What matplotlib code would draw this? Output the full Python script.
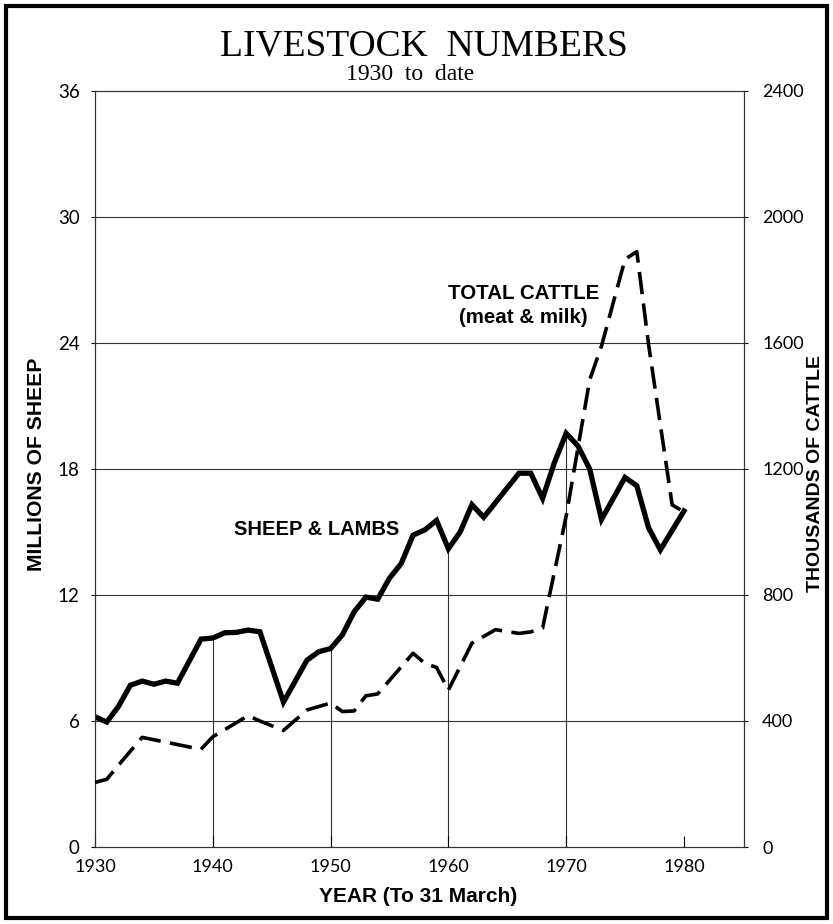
import matplotlib
matplotlib.use("Agg")
import matplotlib.pyplot as plt
from matplotlib.patches import Rectangle

# sheep & lambs, millions (left axis)
years_sheep = [1930, 1931, 1932, 1933, 1934, 1935, 1936, 1937, 1939, 1940,
               1941, 1942, 1943, 1944, 1946, 1948, 1949, 1950, 1951, 1952,
               1953, 1954, 1955, 1956, 1957, 1958, 1959, 1960, 1961, 1962,
               1963, 1964, 1965, 1966, 1967, 1968, 1969, 1970, 1971, 1972,
               1973, 1975, 1976, 1977, 1978, 1980]
sheep = [6.2, 5.95, 6.7, 7.7, 7.9, 7.75, 7.9, 7.8, 9.9, 9.95,
         10.2, 10.22, 10.33, 10.25, 6.9, 8.9, 9.3, 9.45, 10.1, 11.2,
         11.9, 11.8, 12.8, 13.5, 14.85, 15.1, 15.55, 14.2, 15.0, 16.3,
         15.7, 16.4, 17.1, 17.8, 17.8, 16.6, 18.3, 19.7, 19.1, 18.0,
         15.6, 17.6, 17.2, 15.2, 14.15, 16.0]

# total cattle, thousands (right axis)
years_cattle = [1930, 1931, 1932, 1934, 1939, 1940, 1943, 1944, 1946, 1948,
                1950, 1951, 1952, 1953, 1954, 1957, 1958, 1959, 1960, 1962,
                1964, 1966, 1967, 1968, 1970, 1972, 1973, 1975, 1976, 1977,
                1979, 1980]
cattle = [205, 215, 260, 348, 310, 350, 417, 400, 370, 435,
          457, 430, 432, 480, 486, 615, 583, 570, 498, 647,
          690, 678, 683, 695, 1050, 1483, 1590, 1866, 1890, 1595,
          1086, 1064]

sheep_ticks = [0, 6, 12, 18, 24, 30, 36]
cattle_ticks = [0, 400, 800, 1200, 1600, 2000, 2400]
year_ticks = [1930, 1940, 1950, 1960, 1970, 1980]
drop_years = [1940, 1950, 1960, 1970]

tick_font = "Lato"
bold_font = ["Liberation Sans Narrow", "Liberation Sans", "DejaVu Sans"]

fig = plt.figure(figsize=(8.33, 9.24), dpi=100)
ax = fig.add_axes([95 / 833, 1 - 847 / 924, 649 / 833, 756 / 924])
ax2 = ax.twinx()

ax.set_xlim(1930, 1985.1)
ax.set_ylim(0, 36)
ax2.set_ylim(0, 2400)

for y in sheep_ticks[1:-1]:
    ax.axhline(y, color="#333333", lw=0.8, zorder=1)

lookup = dict(zip(years_sheep, sheep))
ax.vlines(drop_years, 0, [lookup[y] for y in drop_years], color="#333333", lw=0.8, zorder=1)

ax.plot(years_sheep, sheep, color="black", lw=3.8, solid_joinstyle="miter", zorder=3)
ax2.plot(years_cattle, cattle, color="black", lw=2.6, linestyle=(0, (6.2, 2.6)), zorder=3)

for a in (ax, ax2):
    for s in a.spines.values():
        s.set_linewidth(0.8)
        s.set_color("#333333")

ax.set_xticks(year_ticks)
ax.set_yticks(sheep_ticks)
ax2.set_yticks(cattle_ticks)
ax.tick_params(axis="x", direction="in", length=8, width=0.8, pad=9, labelsize=13)
ax.tick_params(axis="y", direction="out", length=3, width=0.8, pad=8, labelsize=13.5)
ax2.tick_params(axis="y", direction="out", length=3, width=0.8, pad=10, labelsize=13)
for lab in ax.get_xticklabels() + ax.get_yticklabels() + ax2.get_yticklabels():
    lab.set_family(tick_font)

ax.text(1955.8, 15.1, "SHEEP & LAMBS", ha="right", va="center",
        fontsize=14.5, fontweight="bold", family="Liberation Sans")
ax.text(1966.4, 26.35, "TOTAL CATTLE", ha="center", va="center",
        fontsize=14.8, fontweight="bold", family="Liberation Sans")
ax.text(1966.4, 25.2, "(meat & milk)", ha="center", va="center",
        fontsize=14.8, fontweight="bold", family="Liberation Sans")

fig.text(424 / 833, 1 - 46 / 924, "LIVESTOCK  NUMBERS", ha="center", va="center",
         fontsize=27, family="Liberation Serif")
fig.text(410 / 833, 1 - 75 / 924, "1930  to  date", ha="center", va="center",
         fontsize=17, family="Liberation Serif")

fig.text(37 / 833, 1 - 464 / 924, "MILLIONS OF SHEEP", rotation=90, ha="center", va="center",
         fontsize=15.2, fontweight="bold", family=bold_font)
fig.text(815 / 833, 1 - 474 / 924, "THOUSANDS OF CATTLE", rotation=90, ha="center", va="center",
         fontsize=14, fontweight="bold", family=bold_font)
fig.text(418 / 833, 1 - 897 / 924, "YEAR (To 31 March)", ha="center", va="center",
         fontsize=15, fontweight="bold", family=bold_font)

fig.patches.append(Rectangle((6 / 833, 6 / 924), 821 / 833, 912 / 924, transform=fig.transFigure,
                             fill=False, edgecolor="black", lw=3))

fig.savefig("out.png", dpi=100)
